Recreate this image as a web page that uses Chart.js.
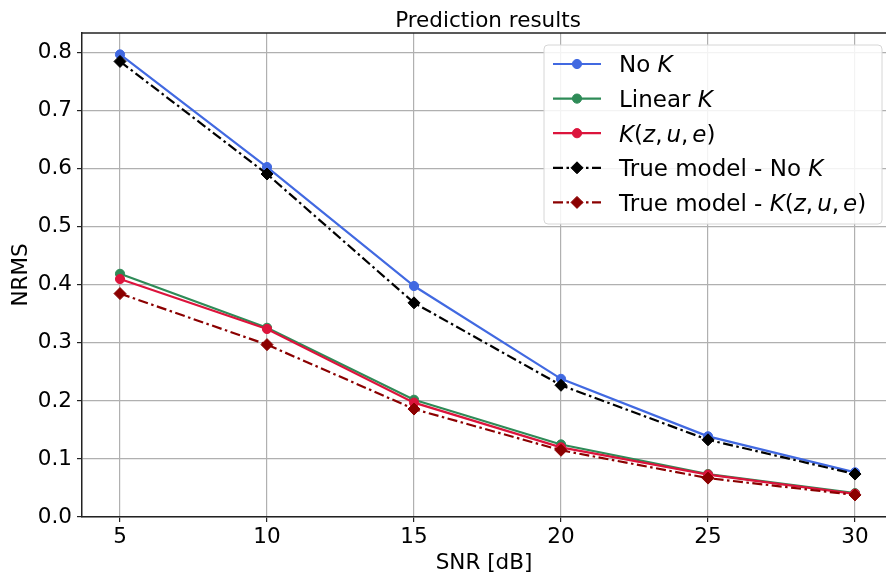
<!DOCTYPE html>
<html>
<head>
<meta charset="utf-8">
<script src="https://cdn.jsdelivr.net/npm/chart.js@4/dist/chart.umd.min.js"></script>
<style>
  html, body { margin: 0; padding: 0; background: #fff; overflow: hidden; }
  #chart { display: block; width: 886px; height: 578px; }
</style>
</head>
<body>
<canvas id="chart" width="886" height="578"></canvas>
<script>
// values
const snr = [5, 10, 15, 20, 25, 30];
const noK = [0.797, 0.603, 0.398, 0.238, 0.139, 0.077];
const linearK = [0.419, 0.326, 0.202, 0.125, 0.074, 0.041];
const kzue = [0.410, 0.324, 0.197, 0.120, 0.073, 0.040];
const trueNoK = [0.785, 0.591, 0.369, 0.227, 0.133, 0.074];
const trueKzue = [0.385, 0.297, 0.186, 0.115, 0.067, 0.038];

const xTicks = [5, 10, 15, 20, 25, 30];
const yTicks = [0, 0.1, 0.2, 0.3, 0.4, 0.5, 0.6, 0.7, 0.8];

const FONT = 'DejaVu Sans';
const dashDot = [10, 3.5, 2.5, 3.5];

function pts(vals) {
    return snr.map((x, i) => ({ x: x, y: vals[i] }));
}

function series(label, vals, color, style, dash, order) {
    const r = style === 'circle' ? 4.6 : 6;
    return {
        label: label,
        data: pts(vals),
        borderColor: color,
        backgroundColor: color,
        borderWidth: 2.2,
        borderDash: dash,
        pointStyle: style,
        pointRadius: r,
        pointBorderWidth: 1,
        pointHoverRadius: r,
        tension: 0,
        order: order
    };
}

// draws the matplotlib-ish title, top spine and legend box
const decorations = {
    id: 'decorations',
    afterDraw(chart) {
        const ctx = chart.ctx;
        const area = chart.chartArea;
        ctx.save();

        // top spine
        ctx.strokeStyle = '#222';
        ctx.lineWidth = 1.5;
        ctx.beginPath();
        ctx.moveTo(area.left, area.top);
        ctx.lineTo(area.right, area.top);
        ctx.stroke();

        // title (centred on the full axes, which run past the right edge)
        ctx.fillStyle = '#000';
        ctx.font = '21.5px "' + FONT + '"';
        ctx.textAlign = 'center';
        ctx.textBaseline = 'alphabetic';
        ctx.fillText('Prediction results', 488, 27);

        // legend
        const bx = 544, by = 45, bw = 338, bh = 179;
        ctx.beginPath();
        ctx.roundRect(bx, by, bw, bh, 4);
        ctx.fillStyle = 'rgba(255,255,255,0.85)';
        ctx.fill();
        ctx.strokeStyle = '#d6d6d6';
        ctx.lineWidth = 1;
        ctx.stroke();

        chart.data.datasets.forEach((ds, i) => {
            const cy = 64 + i * 34.6;
            ctx.save();
            ctx.strokeStyle = ds.borderColor;
            ctx.lineWidth = ds.borderWidth;
            ctx.setLineDash(ds.borderDash || []);
            ctx.beginPath();
            ctx.moveTo(553, cy);
            ctx.lineTo(601, cy);
            ctx.stroke();
            ctx.restore();
            ctx.save();
            ctx.fillStyle = ds.backgroundColor;
            ctx.strokeStyle = ds.borderColor;
            Chart.helpers.drawPoint(ctx, {
                pointStyle: ds.pointStyle,
                radius: ds.pointRadius,
                borderWidth: 1,
                rotation: 0
            }, 577, cy);
            ctx.restore();
            drawMathText(ctx, ds.label, 619, cy + 8.4);
        });
        ctx.restore();
    }
};

// text with $...$ parts rendered italic like mathtext
function drawMathText(ctx, text, x, y) {
    const parts = text.split('$');
    const size = 23;
    ctx.fillStyle = '#000';
    ctx.textAlign = 'left';
    ctx.textBaseline = 'alphabetic';
    parts.forEach((p, k) => {
        if (k % 2 === 0) {
            ctx.font = size + 'px "' + FONT + '"';
            ctx.fillText(p, x, y);
            x += ctx.measureText(p).width;
        } else {
            for (const ch of p) {
                const isLetter = /[A-Za-z]/.test(ch);
                ctx.font = (isLetter ? 'italic ' : '') + size + 'px "' + FONT + '"';
                ctx.fillText(ch, x, y);
                x += ctx.measureText(ch).width + (ch === ',' ? 4 : 0);
            }
        }
    });
}

const ctx = document.getElementById('chart').getContext('2d');
new Chart(ctx, {
    type: 'line',
    data: {
        datasets: [
            series('No $K$', noK, '#4169E1', 'circle', [], 4),
            series('Linear $K$', linearK, '#2E8B57', 'circle', [], 3),
            series('$K(z,u,e)$', kzue, '#DC143C', 'circle', [], 2),
            series('True model - No $K$', trueNoK, '#000000', 'rectRot', dashDot, 1),
            series('True model - $K(z,u,e)$', trueKzue, '#8B0000', 'rectRot', dashDot, 0)
        ]
    },
    options: {
        responsive: false,
        animation: false,
        devicePixelRatio: 1,
        layout: { autoPadding: false, padding: { top: 33, left: 0, right: 0, bottom: 0 } },
        plugins: {
            legend: { display: false },
            title: { display: false },
            tooltip: { enabled: false }
        },
        scales: {
            x: {
                type: 'linear',
                min: 3.707,
                max: 31.054,
                afterBuildTicks: axis => { axis.ticks = xTicks.map(v => ({ value: v })); },
                afterFit: axis => {
                    axis.height = 61;
                    axis.paddingLeft = 0;
                    axis.paddingRight = 0;
                },
                grid: { color: '#b0b0b0', lineWidth: 1.2, tickLength: 5, tickColor: '#222' },
                border: { color: '#222', width: 1.5 },
                ticks: {
                    color: '#000',
                    padding: 3,
                    maxRotation: 0,
                    font: { family: FONT, size: 21.5 }
                },
                title: {
                    display: true,
                    text: 'SNR [dB]',
                    color: '#000',
                    font: { family: FONT, size: 21.5 },
                    padding: { top: 0, bottom: 2 }
                }
            },
            y: {
                min: 0,
                max: 0.834,
                afterBuildTicks: axis => { axis.ticks = yTicks.map(v => ({ value: v })); },
                afterFit: axis => { axis.width = 82; },
                grid: { color: '#b0b0b0', lineWidth: 1.2, tickLength: 5, tickColor: '#222' },
                border: { color: '#222', width: 1.5 },
                ticks: {
                    color: '#000',
                    padding: 5,
                    font: { family: FONT, size: 21.5 },
                    callback: v => v.toFixed(1)
                },
                title: {
                    display: true,
                    text: 'NRMS',
                    color: '#000',
                    font: { family: FONT, size: 21.5 },
                    padding: { top: 9, bottom: 0 }
                }
            }
        }
    },
    plugins: [decorations]
});
</script>
</body>
</html>
